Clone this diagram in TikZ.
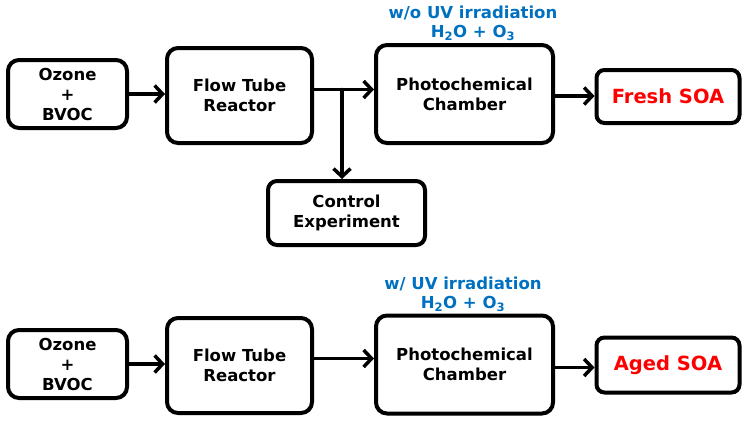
\documentclass[tikz,border=0pt]{standalone}
\usepackage{fontspec}
\setmainfont{DejaVu Sans}
\usepackage{xcolor}
\usepackage{tikz}
\usetikzlibrary{positioning, calc, arrows.meta, shadows}
\definecolor{labelblue}{RGB}{0, 112, 192}
\definecolor{soared}{RGB}{255, 0, 0}

\tikzset{
  box/.style={rectangle, rounded corners=11pt, draw=black, line width=4pt, fill=white,
    align=center, font=\bfseries\fontsize{16.5}{20}\selectfont,
    drop shadow={shadow xshift=1.5pt, shadow yshift=-1.5pt, opacity=0.35}},
  soabox/.style={box, rounded corners=8pt, text=soared, font=\bfseries\fontsize{19.5}{22}\selectfont},
  arr/.style={line width=3.5pt, line cap=round, line join=round, -{Straight Barb[length=8pt, width=17pt]}},
  note/.style={text=labelblue, font=\bfseries\fontsize{16.5}{20}\selectfont, inner sep=0pt}
}

\begin{document}
\begin{tikzpicture}[x=1pt, y=-1pt]
  \useasboundingbox (0,0) rectangle (750,423);

  % upper row: without UV
  \node[box, minimum width=119pt, minimum height=68pt] (oz1) at (67.5,94) {Ozone\\+\\BVOC};
  \node[box, minimum width=145pt, minimum height=95pt] (ftr1) at (239.5,95.5) {Flow Tube\\Reactor};
  \node[box, minimum width=177pt, minimum height=98pt] (pc1) at (464.5,94) {Photochemical\\Chamber};
  \node[soabox, minimum width=143pt, minimum height=53pt] (soa1) at (668,96.5) {Fresh SOA};
  \node[box, rounded corners=9pt, minimum width=157pt, minimum height=64pt] (ctl) at (346.5,213) {Control\\Experiment};
  \node[note] (cond1) at (473,13) {w/o UV irradiation};
  \node[note, below=5pt of cond1] (gas1) {H\textsubscript{2}O + O\textsubscript{3}};

  \draw[arr] (oz1.east) -- (oz1.east -| ftr1.west);
  \draw[arr] ([yshift=6pt]ftr1.east) coordinate (split) -- (split -| pc1.west);
  \coordinate (branch) at ($(split)+(28,0)$);
  \draw[arr] (branch) -- (branch |- ctl.north);
  \draw[arr] ([yshift=-2pt]pc1.east) -- ([yshift=-2pt]pc1.east -| soa1.west);

  % lower row: with UV
  \node[box, minimum width=119pt, minimum height=68pt] (oz2) at (67.5,364) {Ozone\\+\\BVOC};
  \node[box, minimum width=145pt, minimum height=95pt] (ftr2) at (239.5,365.5) {Flow Tube\\Reactor};
  \node[box, minimum width=177pt, minimum height=98pt] (pc2) at (464.5,364.5) {Photochemical\\Chamber};
  \node[soabox, minimum width=143pt, minimum height=55pt] (soa2) at (668,365) {Aged SOA};
  \node[note] (cond2) at (463,284) {w/ UV irradiation};
  \node[note, below=5pt of cond2] (gas2) {H\textsubscript{2}O + O\textsubscript{3}};

  \draw[arr] (oz2.east) -- (oz2.east -| ftr2.west);
  \draw[arr] ([yshift=7pt]ftr2.east) -- ([yshift=7pt]ftr2.east -| pc2.west);
  \draw[arr] ([yshift=-3pt]pc2.east) -- ([yshift=-3pt]pc2.east -| soa2.west);
\end{tikzpicture}
\end{document}
